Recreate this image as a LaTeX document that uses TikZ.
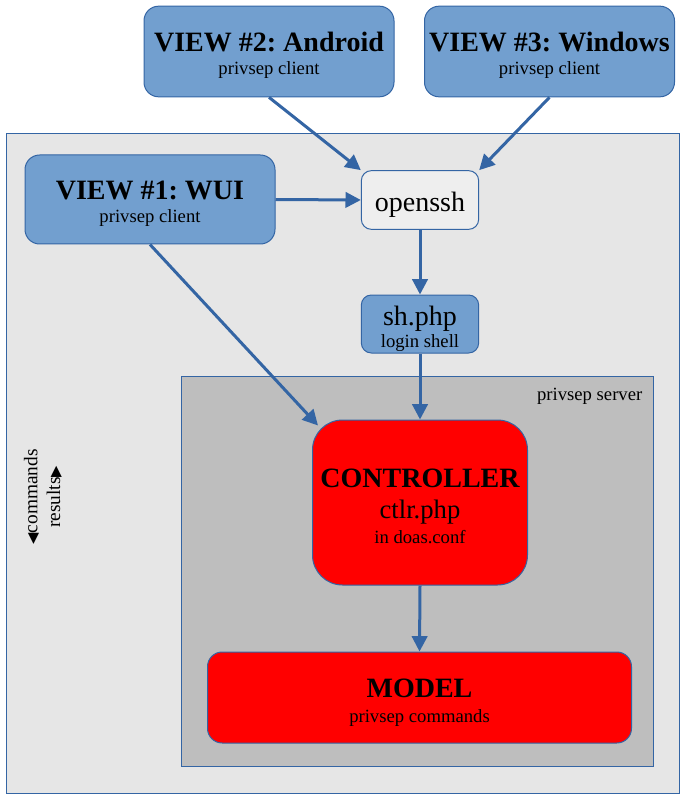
\documentclass[tikz,border=0pt]{standalone}
\usepackage{fontspec}
\setmainfont{Liberation Serif}
\newfontfamily\trifont{DejaVu Sans}
\usetikzlibrary{arrows.meta, calc}
\definecolor{viewblue}{HTML}{729FCF}
\definecolor{edgeblue}{HTML}{3465A4}
\definecolor{panelgray}{HTML}{E6E6E6}
\definecolor{servergray}{HTML}{BEBEBE}
\definecolor{sshgray}{HTML}{EEEEEE}
\newcommand{\subline}{\fontsize{14}{16}\selectfont\mdseries}
\newcommand{\tri}[1]{{\trifont\fontsize{11}{12}\selectfont #1}}
\newcommand{\lowr}[2][3.75pt]{\raisebox{-#1}[\height][\depth]{#2}}

\begin{document}
\frenchspacing
\begin{tikzpicture}[x=0.75pt,y=-0.75pt,
  box/.style={draw=edgeblue, line width=0.75pt, align=center, inner sep=0pt},
  view/.style={box, fill=viewblue, rounded corners=11pt, minimum width=187.5pt, minimum height=68pt, font=\fontsize{21}{17.5}\selectfont\bfseries},
  small/.style={box, rounded corners=7.5pt, minimum width=88pt, minimum height=44pt, font=\fontsize{21}{16.5}\selectfont},
  core/.style={box, fill=red, font=\fontsize{21}{17.5}\selectfont\bfseries},
  flow/.style={edgeblue, line width=2.25pt, -{Triangle[length=11.5pt,width=11.5pt]}}]
\useasboundingbox (0,0) rectangle (685,798);
\filldraw[fill=panelgray, draw=edgeblue, line width=0.75pt] (6,134) rectangle (679,793);
\filldraw[fill=servergray, draw=edgeblue, line width=0.75pt] (181,376) rectangle (653,766);
\node[font=\fontsize{14}{16}\selectfont, anchor=east] (srv) at (647,396) {privsep server};

\node[view] (v2) at (269,51.5) {\lowr[3pt]{VIEW \#2: Android}\\\lowr[3pt]{\subline privsep client}};
\node[view] (v3) at (549.5,51.5) {\lowr[3pt]{VIEW \#3: Windows}\\\lowr[3pt]{\subline privsep client}};
\node[view, minimum height=66.75pt] (v1) at (150,199.5) {\lowr[3pt]{VIEW \#1: WUI}\\\lowr[3pt]{\subline privsep client}};
\node[small, fill=sshgray, execute at begin node={\rule{0pt}{21.5pt}}] (ssh) at (420,200) {openssh};
\node[small, fill=viewblue, minimum height=43.5pt] (sh) at (420,324) {\lowr{sh.php}\\\lowr{\subline login shell}};
\node[core, rounded corners=22.5pt, minimum width=161.25pt, minimum height=123.75pt] (ctl) at (420,502.5)
  {\lowr[3pt]{CONTROLLER}\\[5.5pt]\lowr[3pt]{\fontsize{20}{22}\selectfont\mdseries ctlr.php}\\[1.5pt]\lowr[3pt]{\subline in doas.conf}};
\node[core, rounded corners=11pt, minimum width=318pt, minimum height=68.25pt, font=\fontsize{21}{19}\selectfont\bfseries] (mdl) at (419.5,697.5)
  {\lowr{MODEL}\\\lowr{\subline privsep commands}};
\node[font=\fontsize{14.5}{17}\selectfont, rotate=90, align=center] (dir) at (43,497)
  {\tri{◀}commands\\results\tri{▶}};

\draw[flow] (v2.south) -- (ssh.north west);
\draw[flow] (v3.south) -- (ssh.north east);
\draw[flow] (v1.east) -- (ssh.west);
\draw[flow] (ssh.south) -- (sh.north);
\draw[flow] (sh.south) -- (ctl.north);
\draw[flow] (v1.south) -- ($(ctl.north west)+(6,6)$);
\draw[flow] (ctl.south) -- (mdl.north);
\end{tikzpicture}
\end{document}
